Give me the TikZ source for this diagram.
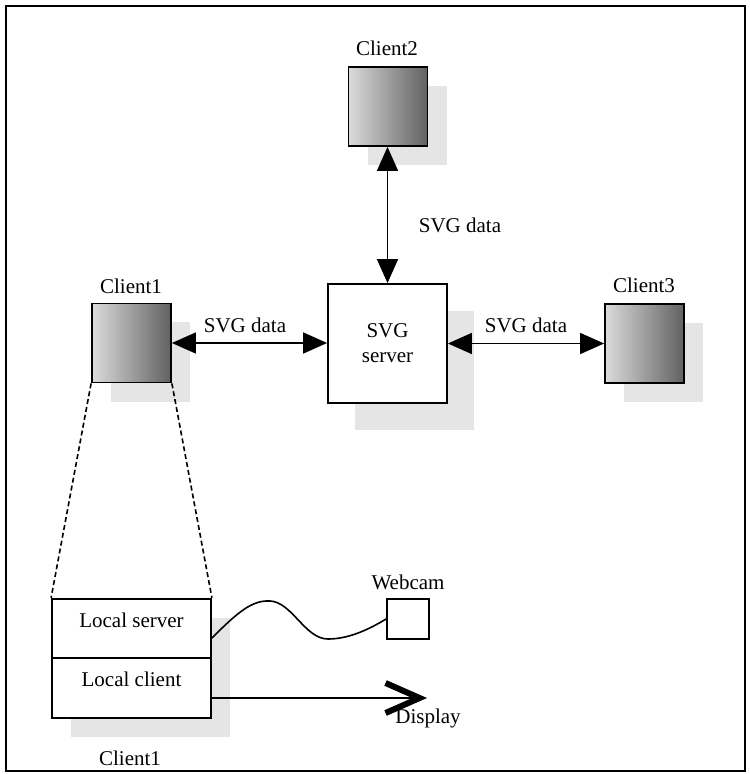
\documentclass[tikz,border=0pt]{standalone}
\usepackage{fontspec}
\setmainfont{Liberation Serif}
\usepackage{tikz}
\usetikzlibrary{arrows.meta,positioning,shadows}

\begin{document}
\begin{tikzpicture}[x=0.5pt, y=-0.5pt,
  every node/.style={font=\fontsize{10.5}{12.5}\selectfont},
  cl/.style={draw,line width=0.9pt,minimum size=39.5pt,inner sep=0pt,
    left color=black!14,right color=black!62,
    drop shadow={shadow xshift=9.5pt,shadow yshift=-9.5pt,fill=black!10,opacity=1}},
  srv/.style={draw,fill=white,line width=0.9pt,minimum size=59.5pt,inner sep=0pt,align=center,
    drop shadow={shadow xshift=13.5pt,shadow yshift=-13.5pt,fill=black!10,opacity=1}},
  lbox/.style={draw,fill=white,line width=0.9pt,minimum width=79.5pt,minimum height=29.75pt,
    inner sep=0pt,text depth=8.5pt,
    drop shadow={shadow xshift=9.5pt,shadow yshift=-9.5pt,fill=black!10,opacity=1}},
  dbl/.style={line width=0.8pt,{Triangle[length=12pt,width=10.5pt]}-{Triangle[length=12pt,width=10.5pt]}}]
  \useasboundingbox (0,0) rectangle (749,774);
  \draw[line width=1.2pt] (6,6) rectangle (745,771);

  % clients and server
  \node[cl] (c2) at (388,106.5) {};
  \node[cl] (c1) at (131.5,343) {};
  \node[cl] (c3) at (644.5,343.5) {};
  \node[srv] (srv) at (387.5,343.5) {SVG\\server};
  \node (c2lbl) at (387,48) {Client2};
  \node (c1lbl) at (131,286) {Client1};
  \node (c3lbl) at (644,285) {Client3};

  \draw[dbl] (c1.east) -- (c1.east -| srv.west);
  \draw[dbl] (srv.east) -- (srv.east -| c3.west);
  \draw[dbl] (c2.south -| srv.north) -- (srv.north);
  \node (d1) at (245,325) {SVG data};
  \node (d2) at (526,325) {SVG data};
  \node (d3) at (460,225) {SVG data};

  % inside of client1
  \node[lbox] (lsrv) at (131.5,628.5) {Local server};
  \node[lbox] (lcli) at (131.5,688) {Local client};
  \node (c1low) at (130,758) {Client1};
  \draw[dashed,dash pattern=on 2.5pt off 1.5pt,line width=0.8pt] (c1.south west) -- (lsrv.north west);
  \draw[dashed,dash pattern=on 2.5pt off 1.5pt,line width=0.8pt] (c1.south east) -- (lsrv.north east);

  \node[draw,line width=0.9pt,minimum width=21pt,minimum height=20pt,inner sep=0pt] (cam) at (408,619) {};
  \node (camlbl) at (408,582) {Webcam};
  \draw[line width=0.8pt] ([yshift=-4.75pt]lsrv.east) .. controls (238,612) and (252,600) .. (270,601)
    .. controls (292,602) and (305,639) .. (328,639) .. controls (348,639) and (368,630) .. (cam.west);

  \coordinate (disp) at (427,698);
  \draw[line width=0.8pt,-{Straight Barb[length=17pt,width=15pt,line width=3pt]}] ([yshift=-5pt]lcli.east) -- (disp);
  \node (displbl) at (428,718) {Display};
\end{tikzpicture}
\end{document}
